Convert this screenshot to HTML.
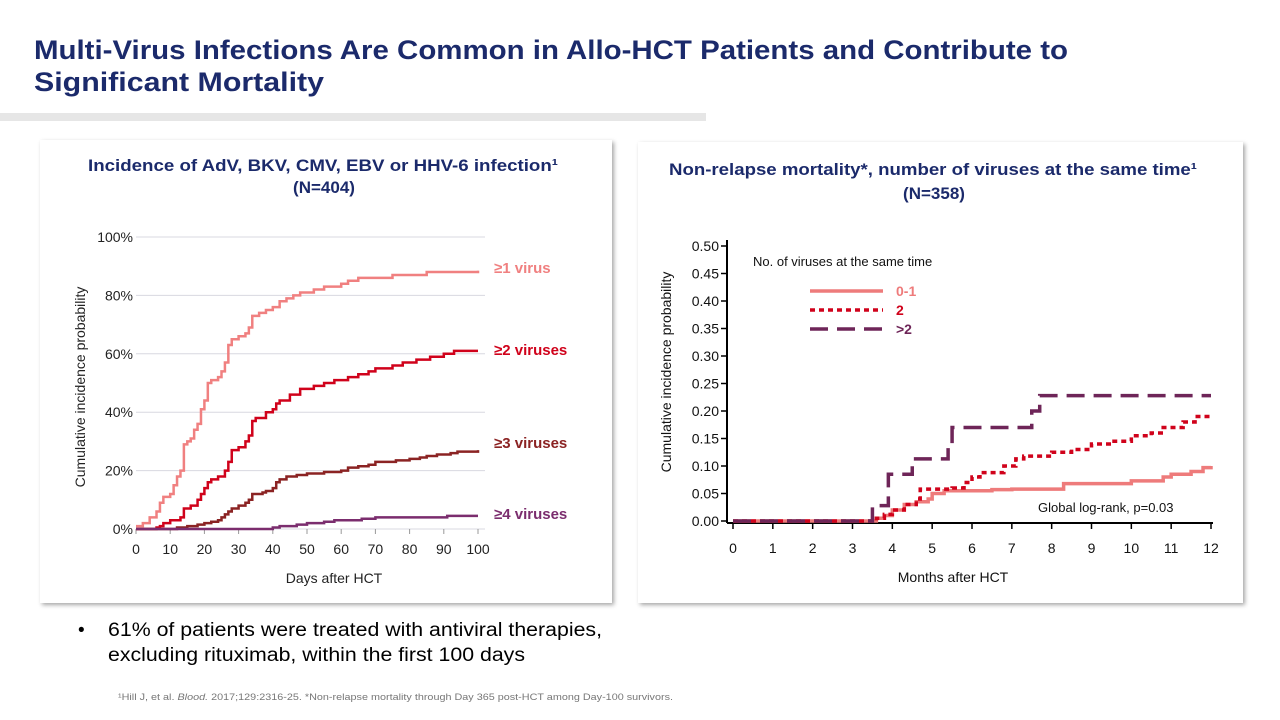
<!DOCTYPE html>
<html><head><meta charset="utf-8"><style>
html,body{margin:0;padding:0;background:#fff;}
svg{display:block;font-family:"Liberation Sans",sans-serif;}
</style></head><body>
<svg id="s" width="1280" height="720" viewBox="0 0 1280 720" xmlns="http://www.w3.org/2000/svg">
<defs>
<filter id="sh" x="-5%" y="-5%" width="110%" height="110%"><feDropShadow dx="2" dy="2" stdDeviation="2" flood-color="#000" flood-opacity="0.35"/></filter>
</defs>
<g fill="#1b2a6b" font-weight="bold" font-size="27">
<text x="34" y="59" textLength="1034" lengthAdjust="spacingAndGlyphs">Multi-Virus Infections Are Common in Allo-HCT Patients and Contribute to</text>
<text x="34" y="91" textLength="290" lengthAdjust="spacingAndGlyphs">Significant Mortality</text>
</g>
<rect x="0" y="113" width="706" height="8" fill="#e6e6e6"/>
<rect x="40" y="140" width="572" height="463" fill="#fff" filter="url(#sh)"/>
<rect x="638" y="142" width="605" height="461" fill="#fff" filter="url(#sh)"/>
<g fill="#1b2a6b" font-weight="bold" font-size="17" text-anchor="middle">
<text x="323" y="171" textLength="470" lengthAdjust="spacingAndGlyphs">Incidence of AdV, BKV, CMV, EBV or HHV-6 infection¹</text>
<text x="324" y="193">(N=404)</text>
</g>
<g fill="#1b2a6b" font-weight="bold" font-size="17" text-anchor="middle">
<text x="933" y="175" textLength="528" lengthAdjust="spacingAndGlyphs">Non-relapse mortality*, number of viruses at the same time¹</text>
<text x="934" y="199">(N=358)</text>
</g>
<g id="left"></g>
<g id="right"></g>
<g font-size="19" fill="#000">
<text x="78" y="636">•</text>
<text x="108" y="636" textLength="494" lengthAdjust="spacingAndGlyphs">61% of patients were treated with antiviral therapies,</text>
<text x="108" y="661" textLength="417" lengthAdjust="spacingAndGlyphs">excluding  rituximab,  within the first 100 days</text>
</g>
<text x="118" y="700" font-size="9.5" fill="#777" textLength="555" lengthAdjust="spacingAndGlyphs">¹Hill J, et al. <tspan font-style="italic">Blood.</tspan> 2017;129:2316-25. *Non-relapse mortality through Day 365 post-HCT among Day-100 survivors.</text>
</svg>
<script>
// ---- Left chart data ----
const leftTicksX = [0,10,20,30,40,50,60,70,80,90,100];
const leftTicksY = [0,20,40,60,80,100];
const s1Days = [0,2,4,6,7,8,10,11,12,13,14,15,16,17,18,19,20,21,22,24,25,26,27,28,30,32,33,34,36,38,40,42,44,46,48,52,55,60,62,65,75,85,100];
const s1Vals = [1,2,4,6,9,11,12,15,18,20,29,30,31,34,36,41,44,50,51,52,54,57,63,65,66,67,69,73,74,75,76,78,79,80,81,82,83,84,85,86,87,88,88.5];
const s2Days = [0,6,7,8,10,13,14,16,18,19,20,21,22,24,26,27,28,30,32,33,34,35,38,40,41,42,45,48,52,55,58,62,65,68,70,75,78,82,86,90,93,100];
const s2Vals = [0,0.5,1,2,3,4,7,8,10,12,14,16,17,18,20,23,27,28,30,32,37,38,40,41,43,44,46,48,49,50,51,52,53,54,55,56,57,58,59,60,61,61];
const s3Days = [0,12,15,18,20,22,24,25,26,27,28,30,32,33,34,37,38,40,41,42,44,47,50,55,60,62,65,68,70,76,80,83,85,88,92,94,100];
const s3Vals = [0,0.5,1,1.5,2,2.5,3,4,5,6,7,8,9,10,12,12.5,13,14,16,17,18,18.5,19,19.5,20,21,21.5,22,23,23.5,24,24.5,25,25.5,26,26.5,27];
const s4Days = [0,40,42,47,50,55,58,66,70,91,100];
const s4Vals = [0,0.5,1,1.5,2,2.5,3,3.5,4,4.5,4.5];
const leftLabels = ["≥1 virus","≥2 viruses","≥3 viruses","≥4 viruses"];
// ---- Right chart data ----
const rightTicksX = [0,1,2,3,4,5,6,7,8,9,10,11,12];
const rightTicksY = [0,0.05,0.10,0.15,0.20,0.25,0.30,0.35,0.40,0.45,0.50];
const gtMonths = [0,3.5,3.9,4.5,5.4,5.5,7.5,7.7,12];
const gtVals = [0,0.028,0.085,0.113,0.14,0.17,0.2,0.228,0.228];
const twoMonths = [0,3.6,3.8,4.0,4.3,4.6,4.7,5.5,5.8,6.0,6.2,6.8,7.1,7.3,8.0,8.5,9.0,9.5,10.0,10.5,10.8,11.3,11.6,12];
const twoVals = [0,0.005,0.012,0.02,0.03,0.04,0.058,0.06,0.07,0.08,0.088,0.1,0.113,0.118,0.125,0.13,0.14,0.145,0.155,0.16,0.17,0.18,0.19,0.19];
const oneMonths = [0,3.6,3.8,4.0,4.3,4.6,4.9,5.0,5.3,6.5,7.0,8.3,10.0,10.8,11.0,11.5,11.8,12];
const oneVals = [0,0.005,0.01,0.02,0.03,0.035,0.04,0.05,0.055,0.057,0.058,0.068,0.073,0.08,0.085,0.09,0.097,0.1];

const NS="http://www.w3.org/2000/svg";
function mk(parent,tag,attrs,text){const e=document.createElementNS(NS,tag);for(const k in attrs)e.setAttribute(k,attrs[k]);if(text!==undefined)e.textContent=text;parent.appendChild(e);return e;}
function stepPath(xs,ys,fx,fy){let d="M"+fx(xs[0])+","+fy(ys[0]);for(let i=1;i<xs.length;i++){d+=" H"+fx(xs[i])+" V"+fy(ys[i]);}return d;}

// Left chart
const L=document.getElementById('left');
const lx=v=>136+v*(478-136)/100, ly=v=>529-v*(529-237)/100;
leftTicksY.forEach(t=>{
  const g=mk(L,'line',{x1:136,x2:485,y1:ly(t),y2:ly(t),stroke:'#d8d8e0','stroke-width':1});
  
  
  const tx=mk(L,'text',{x:133,y:ly(t)+5,'text-anchor':'end','font-size':14,fill:'#222'},t+'%');
  
  
});
leftTicksX.forEach(t=>{
  const tk=mk(L,'line',{x1:lx(t),x2:lx(t),y1:529,y2:534,stroke:'#999'});
  
  
  const tx=mk(L,'text',{x:lx(t),y:554,'text-anchor':'middle','font-size':14,fill:'#222'},t);
  
  
});
const lt=mk(L,'text',{x:334,y:583,'text-anchor':'middle','font-size':14,fill:'#222'},'Days after HCT');


const lyt=mk(L,'text',{x:0,y:0,'text-anchor':'middle','font-size':14,fill:'#222',transform:'translate(85,387) rotate(-90)'},'Cumulative incidence probability');


const lSeries=[[s1Days,s1Vals,'#f08080'],[s2Days,s2Vals,'#d0021b'],[s3Days,s3Vals,'#8b2323'],[s4Days,s4Vals,'#7b2d6e']];
const labelY=[273,355,448,519];
lSeries.forEach((s,i)=>{
  const p=mk(L,'path',{d:stepPath(s[0],s[1],lx,ly),fill:'none',stroke:s[2],'stroke-width':2.5});
  
  
  const t=mk(L,'text',{x:494,y:labelY[i],'font-size':15,'font-weight':'bold',fill:s[2]},leftLabels[i]);
  
  
});

// Right chart
const R=document.getElementById('right');
const rx=v=>733+v*(1211-733)/12, ry=v=>521-v*(521-246)/0.5;
mk(R,'line',{x1:727,x2:727,y1:240,y2:523,stroke:'#000','stroke-width':2});
mk(R,'line',{x1:727,x2:1213,y1:523,y2:523,stroke:'#000','stroke-width':2});
rightTicksY.forEach(t=>{
  const tk=mk(R,'line',{x1:721,x2:727,y1:ry(t),y2:ry(t),stroke:'#000','stroke-width':1.5});
  
  
  const tx=mk(R,'text',{x:719,y:ry(t)+5,'text-anchor':'end','font-size':14,fill:'#111'},t.toFixed(2));
  
  
});
rightTicksX.forEach(t=>{
  const tk=mk(R,'line',{x1:rx(t),x2:rx(t),y1:523,y2:529,stroke:'#000','stroke-width':1.5});
  
  
  const tx=mk(R,'text',{x:rx(t),y:553,'text-anchor':'middle','font-size':14,fill:'#111'},t);
  
  
});
const rt=mk(R,'text',{x:953,y:582,'text-anchor':'middle','font-size':14,fill:'#111'},'Months after HCT');


const ryt=mk(R,'text',{x:0,y:0,'text-anchor':'middle','font-size':14,fill:'#111',transform:'translate(671,372) rotate(-90)'},'Cumulative incidence probability');


const rSeries=[[oneMonths,oneVals,'#ee7b7b','none'],[twoMonths,twoVals,'#d0021b','5,4'],[gtMonths,gtVals,'#6e2558','18,9']];
rSeries.forEach((s,i)=>{
  const p=mk(R,'path',{d:stepPath(s[0],s[1],rx,ry),fill:'none',stroke:s[2],'stroke-width':3.5,'stroke-dasharray':s[3]});
  
  
});
const lg=mk(R,'text',{x:753,y:266,'font-size':13,fill:'#111'},'No. of viruses at the same time');


const legNames=['0-1','2','>2'];
rSeries.forEach((s,i)=>{
  const y=291+i*19;
  const l=mk(R,'line',{x1:810,x2:883,y1:y,y2:y,stroke:s[2],'stroke-width':3.5,'stroke-dasharray':s[3]});
  
  
  const t=mk(R,'text',{x:896,y:y+5,'font-size':14,'font-weight':'bold',fill:s[2]},legNames[i]);
  
  
});
const pv=mk(R,'text',{x:1038,y:512,'font-size':13,fill:'#111'},'Global log-rank, p=0.03');


</script>
</body></html>
